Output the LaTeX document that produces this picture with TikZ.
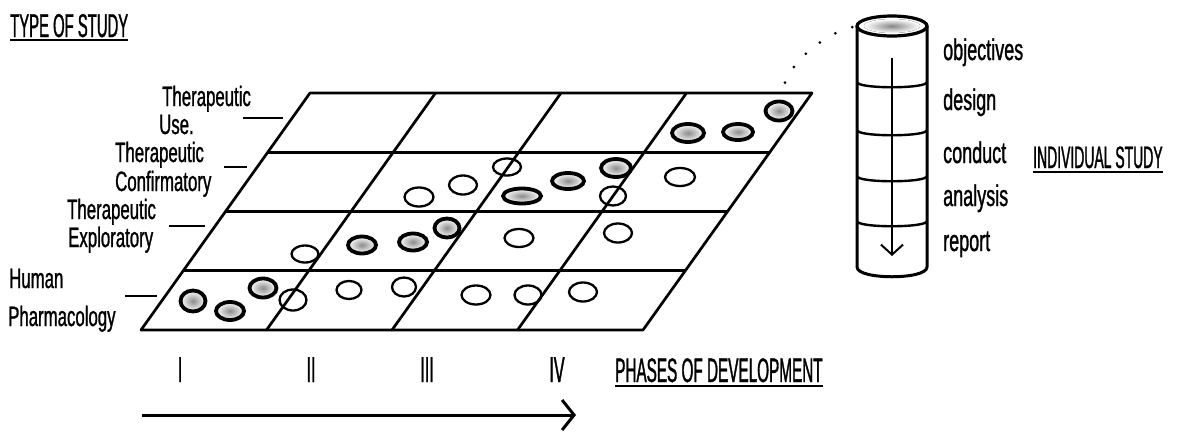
\documentclass[tikz,border=0pt]{standalone}
\usepackage{fontspec}
\setmainfont{Liberation Sans}
\newfontfamily\lblf[FakeStretch=0.6,FakeBold=1]{Liberation Sans}
\newfontfamily\rgtf[FakeStretch=0.6,FakeBold=1]{Liberation Sans}
\newfontfamily\capf[FakeStretch=0.45,FakeBold=1]{Liberation Sans}
\usetikzlibrary{shapes.geometric,arrows.meta,calc}
\begin{document}
\begin{tikzpicture}[x=1pt,y=-1pt,
  gridline/.style={line width=2.7pt, line cap=round, line join=round},
  tick/.style={line width=2.6pt},
  ow/.style 2 args={ellipse,draw,line width=2.3pt,inner sep=0pt,minimum width=#1pt,minimum height=#2pt},
  fw/.style 2 args={ellipse,draw,line width=3.8pt,inner sep=0pt,minimum width=#1pt,minimum height=#2pt,inner color=gray!90,outer color=white},
  lbl/.style={inner sep=0pt, anchor=base west, font=\lblf\fontsize{28}{28}\selectfont},
  rlbl/.style={inner sep=0pt, anchor=base west, font=\rgtf\fontsize{30}{30}\selectfont},
  head/.style={inner sep=0pt, anchor=base west, font=\capf\fontsize{33}{33}\selectfont},
  num/.style={inner sep=0pt, anchor=base, font=\capf\fontsize{36}{36}\selectfont},
  uline/.style={line width=2pt},
  dotline/.style={line width=3pt, line cap=round, dash pattern=on 0pt off 18pt, shorten <=18pt, shorten >=2pt}
]
\useasboundingbox (0,0) rectangle (1179,432);

% heading
\node[head] (tos) at (10,37) {TYPE OF STUDY};
\draw[uline] ([yshift=-3pt]tos.base west) -- ([yshift=-3pt]tos.base east);

% grid
\coordinate (A) at (310,93);
\coordinate (B) at (812,93);
\coordinate (C) at (643,330);
\coordinate (D) at (141,330);
\draw[gridline] (A) -- (B) -- (C) -- (D) -- cycle;
\foreach \f in {0.25,0.5,0.75}{
  \draw[gridline] ($(A)!\f!(D)$) -- ($(B)!\f!(C)$);
  \draw[gridline] ($(A)!\f!(B)$) -- ($(D)!\f!(C)$);
}

% row labels
\node[lbl] (u1t) at (162,106) {Therapeutic};
\node[lbl] (u1b) at (159,134) {Use.};
\node[lbl] (c1t) at (115,162) {Therapeutic};
\node[lbl] (c1b) at (115,191) {Confirmatory};
\node[lbl] (x1t) at (67,219) {Therapeutic};
\node[lbl] (x1b) at (68,247) {Exploratory};
\node[lbl] (p1t) at (9,288) {Human};
\node[lbl] (p1b) at (8,326) {Pharmacology};
\draw[tick] (243,118) -- (283,118);
\draw[tick] (224,167) -- (247,167);
\draw[tick] (169,226) -- (205,226);
\draw[tick] (125,296) -- (157,296);

% studies: human pharmacology row
\node[fw={25}{21}] (h1) at (193,301) {};
\node[fw={28}{18}] (h2) at (230,311) {};
\node[fw={27}{19}] (h3) at (263,288) {};
\node[ow={27}{21}] (h4) at (293,300) {};
\node[ow={25}{18}] (h5) at (349,290) {};
\node[ow={24}{19}] (h6) at (404,287) {};
\node[ow={29}{19}] (h7) at (476,295) {};
\node[ow={27}{19}] (h8) at (528,295) {};
\node[ow={28}{19}] (h9) at (583,292) {};
% exploratory row
\node[ow={27}{17}] (e1) at (305,254) {};
\node[fw={28}{17}] (e2) at (362,245) {};
\node[fw={28}{17}] (e3) at (413,242) {};
\node[fw={25}{19}] (e4) at (447,228) {};
\node[ow={29}{18}] (e5) at (519,238) {};
\node[ow={28}{19}] (e6) at (618,233) {};
% confirmatory row
\node[ow={29}{19}] (k1) at (419,197) {};
\node[ow={28}{19}] (k2) at (463,185) {};
\node[ow={28}{17}] (k3) at (507,167) {};
\node[fw={38}{15}] (k4) at (522,196) {};
\node[fw={32}{16}] (k5) at (568,181) {};
\node[fw={30}{18}] (k6) at (616,168) {};
\node[ow={26}{19}] (k7) at (613,196) {};
\node[ow={30}{18}] (k8) at (680,177) {};
% therapeutic use row
\node[fw={32}{18}] (s1) at (688,133) {};
\node[fw={30}{16}] (s2) at (738,132) {};
\node[fw={27}{19}] (s3) at (779,111) {};

% cylinder
\coordinate (cyltop) at (857,26);
\draw[line width=3.2pt] (892,26) ellipse [x radius=35, y radius=10];
\fill[inner color=gray!95, outer color=white] (892,26) ellipse [x radius=28, y radius=7];
\draw[line width=3pt, line join=round] (857,26) -- (857,267) .. controls (857,280) and (927,280) .. (927,267) -- (927,26);
\foreach \yy in {82,130,176,221}{
  \draw[line width=2.4pt] (857,\yy) .. controls (857,\yy+7) and (927,\yy+7) .. (927,\yy);
}
\coordinate (ca1) at (892,58);
\coordinate (ca2) at (892,256);
\draw[line width=2pt, -{Straight Barb[length=10pt,width=22pt]}] (ca1) -- (ca2);

% dotted link from study to cylinder
\draw[dotline] (s3.north) .. controls +(14,-40) and +(-30,6) .. (cyltop);

% step labels
\node[rlbl] (o1) at (943,60) {objectives};
\node[rlbl] (o2) at (943,110) {design};
\node[rlbl] (o3) at (943,163) {conduct};
\node[rlbl] (o4) at (943,206) {analysis};
\node[rlbl] (o5) at (943,251) {report};
\node[inner sep=0pt, anchor=base west, font=\capf\fontsize{31}{31}\selectfont] (ind) at (1033,168) {INDIVIDUAL STUDY};
\draw[uline] ([yshift=-4pt]ind.base west) -- ([yshift=-4pt]ind.base east);

% phases
\node[num] (r1) at (180,382) {I};
\node[num] (r2) at (311,382) {II};
\node[num] (r3) at (427,382) {III};
\node[num] (r4) at (557,382) {IV};
\node[head, font=\capf\fontsize{34}{34}\selectfont] (pod) at (615,382) {PHASES OF DEVELOPMENT};
\draw[uline] ([yshift=-4pt]pod.base west) -- ([yshift=-4pt]pod.base east);
\coordinate (arS) at (142,415);
\coordinate (arE) at (576,415);
\draw[line width=3pt, -{Straight Barb[length=12pt,width=30pt]}] (arS) -- (arE);
\end{tikzpicture}
\end{document}
